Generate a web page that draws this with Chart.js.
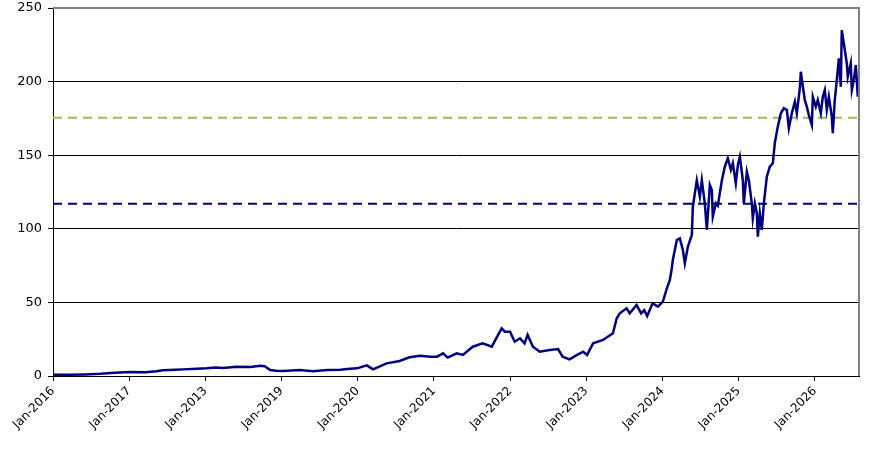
<!DOCTYPE html>
<html>
<head>
<meta charset="utf-8">
<script src="https://cdn.jsdelivr.net/npm/chart.js@4"></script>
<style>
  body { margin: 0; background: #fff; }
  #box { width: 883px; height: 449px; }
</style>
</head>
<body>
<div id="box"><canvas id="grafico"></canvas></div>
<script>
// x values are decimal years (2016.0 = Jan-2016)
const yearLabels = ["Jan-2016", "Jan-2017", "Jan-2013", "Jan-2019", "Jan-2020", "Jan-2021",
  "Jan-2022", "Jan-2023", "Jan-2024", "Jan-2025", "Jan-2026"];

const earlyDates = [2016.00, 2016.22, 2016.42, 2016.62, 2016.81, 2017.01, 2017.21, 2017.36, 2017.44, 2017.60,
  2017.71, 2017.89, 2018.02, 2018.13, 2018.23, 2018.41, 2018.59, 2018.72, 2018.78, 2018.85,
  2018.93, 2019.02, 2019.24, 2019.41, 2019.60, 2019.77, 2019.90, 2019.99, 2020.12, 2020.20,
  2020.29, 2020.38, 2020.55, 2020.68, 2020.82, 2020.95, 2021.04, 2021.12, 2021.18, 2021.30,
  2021.38, 2021.51, 2021.64, 2021.76, 2021.83, 2021.89, 2021.93, 2022.00, 2022.06, 2022.13,
  2022.19, 2022.23, 2022.30, 2022.39, 2022.52, 2022.63, 2022.69, 2022.78, 2022.88, 2022.96,
  2023.01, 2023.09, 2023.22, 2023.35, 2023.40, 2023.44, 2023.53, 2023.57, 2023.66, 2023.72,
  2023.76, 2023.80, 2023.87, 2023.94, 2024.005, 2024.058, 2024.097, 2024.123];
const earlyPrices = [0.8, 0.9, 1.1, 1.5, 2.2, 2.7, 2.6, 3.2, 3.9, 4.2,
  4.5, 5.0, 5.2, 5.8, 5.5, 6.3, 6.1, 7.0, 6.6, 4.1,
  3.6, 3.4, 4.0, 3.3, 4.0, 4.3, 5.0, 5.2, 7.2, 4.5,
  6.5, 8.6, 10.2, 12.7, 13.8, 13.1, 13.1, 15.4, 12.5, 15.4,
  14.3, 19.9, 22.2, 19.9, 26.7, 32.4, 30.1, 30.0, 23.3, 25.6,
  22.2, 27.9, 19.9, 16.5, 17.7, 18.3, 13.1, 11.3, 14.3, 16.5,
  14.3, 22.2, 24.5, 29.0, 39.2, 42.6, 46.0, 42.6, 48.2, 42.6,
  44.8, 40.8, 49.4, 47.1, 50.5, 59.6, 65.2, 73.2];

const lateDates = [2024.136, 2024.189, 2024.228, 2024.268, 2024.294, 2024.333, 2024.386, 2024.399, 2024.451, 2024.491,
  2024.517, 2024.556, 2024.583, 2024.622, 2024.648, 2024.661, 2024.701, 2024.727, 2024.780,
  2024.819, 2024.858, 2024.898, 2024.924, 2024.963, 2024.990, 2025.016, 2025.055, 2025.068, 2025.108,
  2025.134, 2025.173, 2025.186, 2025.213, 2025.239, 2025.252, 2025.278, 2025.304, 2025.331, 2025.370,
  2025.409, 2025.449, 2025.475, 2025.514, 2025.554, 2025.593, 2025.633, 2025.659, 2025.698, 2025.738,
  2025.764, 2025.803, 2025.816, 2025.843, 2025.869, 2025.895, 2025.921, 2025.961, 2025.974, 2026.013,
  2026.039, 2026.079, 2026.105, 2026.131, 2026.157, 2026.184, 2026.223, 2026.236, 2026.262, 2026.289,
  2026.315, 2026.341, 2026.354, 2026.394, 2026.420, 2026.433, 2026.472, 2026.486, 2026.512, 2026.538,
  2026.551, 2026.564];
const latePrices = [78.8, 92.4, 93.5, 85.6, 76.6, 87.8, 95.8, 115.0, 133.0, 121.8,
  133.0, 117.3, 99.2, 129.8, 126.4, 108.2, 117.3, 115.7, 133.0,
  142.2, 147.9, 140.0, 144.5, 130.9, 143.3, 149.0, 133.0, 117.3, 138.8,
  133.0, 117.3, 107.1, 117.3, 110.5, 94.6, 110.5, 99.2, 117.3, 135.4,
  142.2, 144.5, 158.3, 169.4, 178.5, 181.9, 180.7, 168.3, 178.5, 186.4,
  178.5, 195.4, 206.7, 196.5, 187.5, 183.0, 177.3, 170.5, 189.7, 183.0,
  187.5, 178.5, 189.7, 194.3, 180.7, 189.7, 176.2, 164.9, 187.5, 201.0,
  215.8, 196.5, 235.0, 221.5, 212.4, 203.3, 212.4, 194.3, 201.0, 211.3,
  201.0, 189.7];

const upperLevel = 175.5;
const lowerLevel = 117;
const xMin = 2016;
const xMax = 2026.58;

const dates = earlyDates.concat(lateDates);
const prices = earlyPrices.concat(latePrices);
const precoPontos = dates.map((d, i) => ({ x: d, y: prices[i] }));

function linhaNivel(valor) {
  return [{ x: xMin, y: valor }, { x: xMax, y: valor }];
}

// grey frame on top and right like the original
const moldura = {
  id: "moldura",
  afterDraw(chart) {
    const a = chart.chartArea;
    const ctx = chart.ctx;
    ctx.save();
    ctx.strokeStyle = "#808080";
    ctx.lineWidth = 2;
    ctx.beginPath();
    ctx.moveTo(a.left, a.top);
    ctx.lineTo(a.right, a.top);
    ctx.lineTo(a.right, a.bottom);
    ctx.stroke();
    ctx.restore();
  }
};

Chart.defaults.font.family = "'DejaVu Sans', sans-serif";
Chart.defaults.font.size = 13;
Chart.defaults.color = "#000";

new Chart(document.getElementById("grafico"), {
  type: "line",
  data: {
    datasets: [
      {
        label: "Preço",
        data: precoPontos,
        borderColor: "#000080",
        borderWidth: 2.5,
        pointRadius: 0,
        tension: 0
      },
      {
        label: "Nível superior",
        data: linhaNivel(upperLevel),
        borderColor: "#9BBB59",
        borderWidth: 2,
        borderDash: [9, 6],
        pointRadius: 0
      },
      {
        label: "Nível inferior",
        data: linhaNivel(lowerLevel),
        borderColor: "#000080",
        borderWidth: 2,
        borderDash: [9, 6],
        pointRadius: 0
      }
    ]
  },
  options: {
    responsive: true,
    maintainAspectRatio: false,
    animation: false,
    layout: { padding: { top: 8, right: 24, left: 0, bottom: 0 } },
    plugins: {
      legend: { display: false },
      tooltip: { enabled: false }
    },
    scales: {
      x: {
        type: "linear",
        min: xMin,
        max: xMax,
        afterBuildTicks: s => {
          s.ticks = s.ticks.filter(t => Number.isInteger(t.value));
        },
        afterFit: s => {
          s.height = 73;
          s.paddingRight = 0;
        },
        ticks: {
          stepSize: 1,
          maxRotation: 45,
          minRotation: 45,
          autoSkip: false,
          padding: 3,
          font: { size: 12 },
          callback: v => yearLabels[v - xMin]
        },
        grid: {
          drawOnChartArea: false,
          drawTicks: true,
          tickLength: 5,
          tickColor: "#000"
        },
        border: { color: "#000", width: 1 }
      },
      y: {
        min: 0,
        max: 250,
        afterFit: s => {
          s.width = 53;
          s.paddingTop = 0;
          s.paddingBottom = 0;
        },
        ticks: { stepSize: 50, padding: 6 },
        grid: {
          color: c => (c.tick.value === 250 ? "rgba(0,0,0,0)" : "#000"),
          tickColor: "#000",
          tickLength: 5,
          lineWidth: 1
        },
        border: { color: "#000", width: 1 }
      }
    }
  },
  plugins: [moldura]
});
</script>
</body>
</html>
